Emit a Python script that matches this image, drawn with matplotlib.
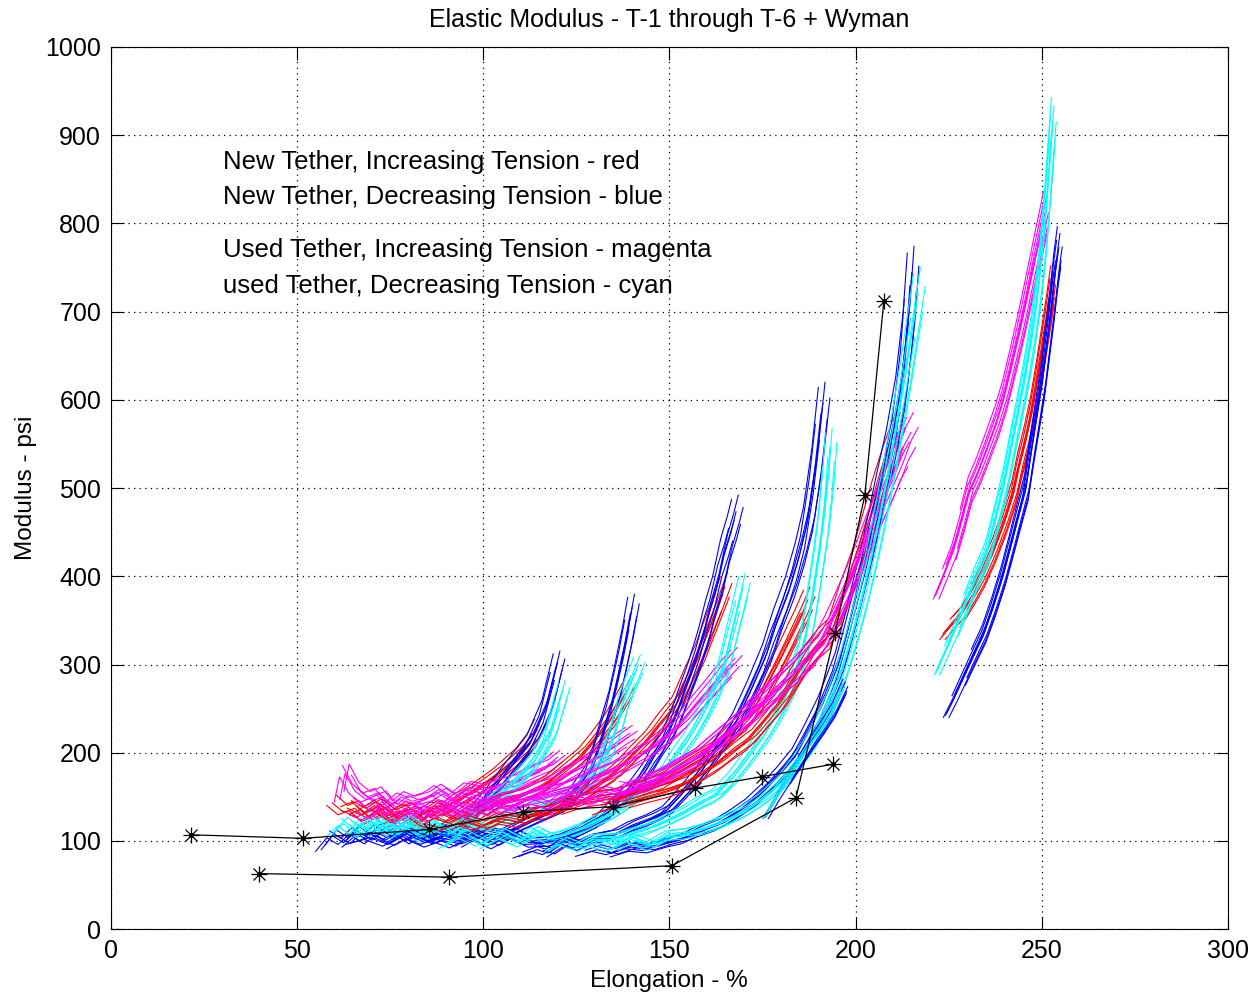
import matplotlib
matplotlib.use('Agg')
import matplotlib.pyplot as plt
import numpy as np

plt.rcParams['font.family'] = ['Liberation Sans', 'DejaVu Sans']

# Wyman data (black lines with stars)
wyman1_x = [21.5, 51.6, 85.5, 110.7, 134.9, 157.0, 175.0, 194.0]
wyman1_y = [107, 103, 113, 133, 139, 160, 173, 187]
wyman2_x = [39.8, 90.8, 150.7, 184.0, 194.5, 202.5, 207.6]
wyman2_y = [63, 59, 72, 149, 336, 492, 712]

# group 1 (lowest elongation)
red1_x = [60, 63, 66, 69, 72, 75, 78, 81, 84, 87, 90, 93, 96, 100, 104, 107, 110, 113, 115]
red1_y = [146, 135, 140, 128, 136, 124, 130, 120, 132, 140, 138, 148, 154, 165, 177, 188, 199, 215, 231]
blue1_x = [57, 60, 63, 66, 69, 72, 75, 78, 81, 84, 87, 90, 93, 96, 99, 102, 106, 110, 113, 117, 120]
blue1_y = [92, 108, 100, 112, 104, 115, 106, 113, 104, 112, 105, 116, 110, 125, 140, 155, 177, 198, 214, 252, 303]
mag1_x = [62, 63.4, 66, 69, 72, 75, 78, 81, 85, 88, 92, 96, 100, 105, 109, 113, 117, 120]
mag1_y = [150, 180, 160, 150, 155, 140, 150, 145, 150, 158, 148, 161, 158, 165, 169, 178, 185, 195]
cyan1_x = [60, 63, 66, 69, 72, 75, 78, 81, 84, 87, 90, 93, 96, 100, 104, 108, 111, 114, 118, 121.4]
cyan1_y = [110, 122, 112, 125, 115, 122, 110, 118, 104, 116, 108, 120, 131, 140, 150, 165, 178, 192, 222, 271]

# group 2
red2_x = [64, 68, 72, 76, 80, 84, 88, 92, 96, 100, 104, 108, 112, 115, 117.9, 120, 123, 126.8, 130, 132, 134, 136.5, 138.6]
red2_y = [140, 132, 142, 130, 138, 126, 136, 128, 140, 134, 146, 150, 156, 162, 169, 176, 186, 199, 215, 226, 237, 255, 271]
blue2_x = [65, 70, 75, 80, 85, 90, 95, 100, 105, 109, 113, 117, 120, 122.5, 125, 128.7, 131, 133.2, 135, 136.7, 138.5, 140]
blue2_y = [100, 106, 98, 110, 100, 108, 104, 112, 108, 116, 124, 132, 138, 143, 158, 180, 205, 237, 262, 294, 330, 365]
mag2_x = [66, 70, 74, 78, 82, 86, 90, 94, 98, 102, 106, 110, 114, 118, 122.5, 126, 129, 131.3, 134, 136.5, 139.4]
mag2_y = [135, 128, 140, 125, 138, 130, 142, 134, 146, 138, 150, 152, 160, 165, 177, 185, 192, 199, 206, 214, 222]
cyan2_x = [64, 68, 72, 76, 80, 84, 88, 92, 96, 100, 104, 108, 112, 116, 120, 123, 126.8, 130, 133.2, 135.5, 137.5, 139.5, 141.6]
cyan2_y = [118, 108, 122, 110, 124, 112, 120, 110, 122, 114, 126, 130, 136, 142, 148, 154, 161, 178, 199, 225, 256, 278, 299]

# group 3
red3_x = [85, 90, 95, 100, 105, 110, 114, 117.9, 122, 126.8, 131, 135.9, 140, 144.8, 148, 152, 155, 158.2, 161.5, 164.9]
red3_y = [122, 116, 125, 118, 128, 124, 132, 135, 144, 154, 166, 180, 198, 218, 236, 256, 284, 313, 350, 388]
blue3_x = [88, 93, 98, 103, 108, 113, 117.9, 122, 126, 131.3, 135, 140.2, 144, 147, 149.3, 152, 154, 156.3, 159, 160.8, 162.8, 165, 166.8, 167.9]
blue3_y = [104, 96, 108, 98, 110, 100, 101, 105, 112, 124, 140, 161, 182, 204, 218, 244, 268, 294, 330, 360, 388, 430, 455, 473]
mag3_x = [92, 97, 102, 107, 112, 117, 122.5, 127, 131, 135.9, 140, 144.8, 149, 153.6, 157, 160.9, 164, 167.6]
mag3_y = [140, 132, 145, 138, 150, 155, 161, 168, 176, 184, 194, 206, 220, 237, 255, 274, 290, 307]
cyan3_x = [90, 95, 100, 105, 110, 114, 118, 122.5, 127, 131, 135.9, 140, 144, 149.3, 152, 155, 158.2, 161.5, 164.4, 167, 169.8]
cyan3_y = [95, 108, 98, 110, 100, 112, 104, 109, 116, 125, 135, 148, 162, 180, 198, 215, 237, 264, 294, 340, 388]

# group 4
red4_x = [112, 117.9, 122, 126, 130, 135.9, 140, 144, 149.3, 153, 157, 162.8, 166, 170, 173.5, 177, 180.5, 183, 185, 187.2]
red4_y = [132, 135, 140, 146, 150, 154, 158, 164, 172, 182, 192, 206, 220, 238, 256, 284, 313, 335, 352, 373]
blue4_x = [110, 115, 118, 122.5, 126, 130, 135.9, 140, 145, 149.3, 153, 158.2, 162, 165, 168.1, 172, 176.2, 179, 182.4, 185, 187.2, 189.5, 191.2]
blue4_y = [84, 92, 88, 101, 96, 104, 109, 118, 126, 135, 152, 177, 200, 218, 237, 272, 313, 350, 388, 425, 464, 530, 596]
mag4_x = [108, 113, 118, 122, 127, 132, 136, 140, 145, 149, 153, 158, 162, 166, 170, 174, 178, 182, 185, 187.5, 189.6]
mag4_y = [140, 145, 138, 150, 146, 156, 152, 162, 168, 176, 186, 198, 212, 226, 240, 258, 272, 288, 300, 312, 320]
cyan4_x = [118, 122, 126, 130, 135.9, 140, 145, 149.3, 154, 158, 162.8, 167, 171, 175.1, 179, 182.4, 185, 187, 188.6, 190, 191.2, 192.3, 193.1]
cyan4_y = [90, 100, 94, 104, 104, 110, 116, 124, 134, 144, 154, 172, 194, 218, 245, 274, 305, 340, 381, 420, 456, 500, 546]

# group 5
red5_x = [131.3, 136, 140, 144.8, 150, 154, 158.2, 163, 167, 171.6, 176, 180.5, 184, 187.5, 191, 194, 197, 200.4, 203, 205.7, 208.5, 211.4]
red5_y = [135, 142, 148, 154, 160, 166, 177, 190, 204, 218, 240, 263, 288, 312, 330, 342, 380, 418, 455, 494, 530, 563]
blue5_x = [126.8, 131, 135, 140, 144.8, 150, 154, 158, 163, 167, 171.6, 176, 180, 184.2, 187.5, 191.2, 193.5, 195.8, 198, 200.4, 203.5, 206.5, 209.5, 212, 214, 215.1]
blue5_y = [86, 92, 88, 95, 93, 100, 104, 112, 120, 130, 143, 160, 178, 199, 225, 256, 280, 305, 340, 381, 435, 494, 550, 608, 680, 744]
mag5_x = [136, 140, 144, 148, 153.6, 158, 162, 166, 171.6, 176, 180.5, 185, 189.6, 193, 196, 199, 202, 205, 208, 211, 213, 214.9]
mag5_y = [161, 158, 170, 175, 188, 198, 212, 226, 245, 262, 282, 300, 320, 345, 372, 400, 432, 465, 495, 525, 548, 563]
cyan5_x = [130, 135, 140, 145, 150, 155, 160, 165, 170, 175, 180, 184, 188, 191, 194, 196.5, 199, 201.5, 204, 206.5, 209, 211.5, 213.5, 215.3, 216.8]
cyan5_y = [98, 92, 104, 96, 108, 110, 116, 124, 134, 148, 166, 188, 212, 236, 265, 295, 330, 370, 415, 465, 520, 580, 630, 680, 721]
late5_x = [176, 179, 182, 185, 188, 191, 194, 197]
late5_y = [128, 150, 170, 190, 210, 228, 248, 275]

# group 6 (highest elongation)
red6_x = [223.5, 226, 229, 231.5, 234, 237, 240, 242.5, 244, 245.8, 247.5, 249, 250.5, 251.8, 252.8]
red6_y = [335, 348, 362, 380, 399, 428, 462, 495, 525, 555, 588, 625, 665, 700, 730]
blue6_x = [224.5, 226.5, 229, 231.5, 234.5, 237, 239.6, 241.8, 243.8, 245.8, 247.2, 248.6, 250.2, 251.5, 252.8, 253.7, 254.6]
blue6_y = [245, 262, 285, 308, 335, 365, 400, 435, 468, 500, 540, 577, 620, 665, 710, 745, 773]
mag6_x = [221.8, 224, 226.5, 228.5, 230.7, 233, 235.5, 238, 240, 242, 244, 245.5, 247, 248.5, 249.8, 250.9]
mag6_y = [382, 405, 432, 462, 498, 520, 548, 577, 605, 640, 676, 705, 735, 765, 790, 812]
cyan6_x = [222, 224.5, 227, 229.5, 232, 235.3, 238, 240, 242.3, 244, 245.8, 247.6, 249, 250.3, 251.3, 252.2, 253]
cyan6_y = [294, 318, 342, 368, 395, 426, 470, 505, 554, 590, 630, 676, 720, 770, 820, 870, 915]

# spread of the individual test runs around each bundle: (x shift, y factor, first point)
wide_runs = [(-2.0, 0.96, 0), (-1.2, 1.03, 1), (-0.5, 0.98, 0), (0.0, 1.0, 2), (0.6, 1.04, 0),
             (1.2, 0.97, 1), (1.9, 1.01, 3), (-0.9, 0.93, 2)]
tight_runs = [(-0.9, 0.98, 0), (-0.6, 1.01, 1), (-0.3, 0.99, 0), (0.0, 1.0, 0), (0.3, 1.02, 1),
              (0.6, 0.98, 0), (0.9, 1.0, 2), (-0.4, 1.03, 3), (0.5, 0.97, 2)]

RED, BLUE, MAG, CYAN = '#ff0000', '#0000ff', '#ff00ff', '#00ffff'

bundles = [
    (red1_x, red1_y, RED, wide_runs), (blue1_x, blue1_y, BLUE, wide_runs),
    (mag1_x, mag1_y, MAG, wide_runs), (cyan1_x, cyan1_y, CYAN, wide_runs),
    (red2_x, red2_y, RED, wide_runs), (blue2_x, blue2_y, BLUE, wide_runs),
    (mag2_x, mag2_y, MAG, wide_runs), (cyan2_x, cyan2_y, CYAN, wide_runs),
    (red3_x, red3_y, RED, wide_runs), (blue3_x, blue3_y, BLUE, wide_runs),
    (mag3_x, mag3_y, MAG, wide_runs), (cyan3_x, cyan3_y, CYAN, wide_runs),
    (red4_x, red4_y, RED, wide_runs), (blue4_x, blue4_y, BLUE, wide_runs),
    (mag4_x, mag4_y, MAG, wide_runs), (cyan4_x, cyan4_y, CYAN, wide_runs),
    (red5_x, red5_y, RED, wide_runs), (blue5_x, blue5_y, BLUE, wide_runs),
    (mag5_x, mag5_y, MAG, wide_runs), (cyan5_x, cyan5_y, CYAN, wide_runs),
    (late5_x, late5_y, BLUE, tight_runs), (late5_x, late5_y, CYAN, tight_runs[:4]),
    (red6_x, red6_y, RED, tight_runs), (blue6_x, blue6_y, BLUE, tight_runs),
    (mag6_x, mag6_y, MAG, tight_runs), (cyan6_x, cyan6_y, CYAN, tight_runs),
]

fig = plt.figure(figsize=(12.6, 9.97), dpi=100)
ax = fig.add_axes([0.088, 0.068, 0.8865, 0.885])

for bx, by, col, runs in bundles:
    bx = np.array(bx, dtype=float)
    by = np.array(by, dtype=float)
    for dx, fy, start in runs:
        ax.plot(bx[start:] + dx, by[start:] * fy, color=col, lw=0.8)

# Wyman curves, matlab-style '*' markers
for wx, wy in [(wyman1_x, wyman1_y), (wyman2_x, wyman2_y)]:
    ax.plot(wx, wy, color='black', lw=0.9)
    ax.plot(wx, wy, ls='none', marker='+', ms=12, mew=0.9, color='black')
    ax.plot(wx, wy, ls='none', marker='x', ms=8.5, mew=0.9, color='black')
    ax.plot(wx, wy, ls='none', marker='o', ms=2.5, color='black')

ax.set_xlim(0, 300)
ax.set_ylim(0, 1000)
ax.set_xticks(range(0, 301, 50))
ax.set_yticks(range(0, 1001, 100))
ax.grid(True, linestyle=(0, (1, 3.5)), color='black', lw=0.9)
ax.tick_params(direction='in', length=9, labelsize=18, top=True, right=True, pad=7)
for s in ax.spines.values():
    s.set_linewidth(0.8)

ax.set_title('Elastic Modulus - T-1 through T-6 + Wyman', fontsize=18, pad=14)
ax.set_xlabel('Elongation - %', fontsize=17.5, labelpad=5)
ax.set_ylabel('Modulus - psi', fontsize=17.5, labelpad=6)

notes = ['New Tether, Increasing Tension - red',
         'New Tether, Decreasing Tension - blue',
         'Used Tether, Increasing Tension - magenta',
         'used Tether, Decreasing Tension - cyan']
note_y = [870, 830, 770, 729]
for t, yy in zip(notes, note_y):
    ax.text(30, yy, t, fontsize=18.5, va='center', ha='left')

fig.savefig('out.png', dpi=100)
